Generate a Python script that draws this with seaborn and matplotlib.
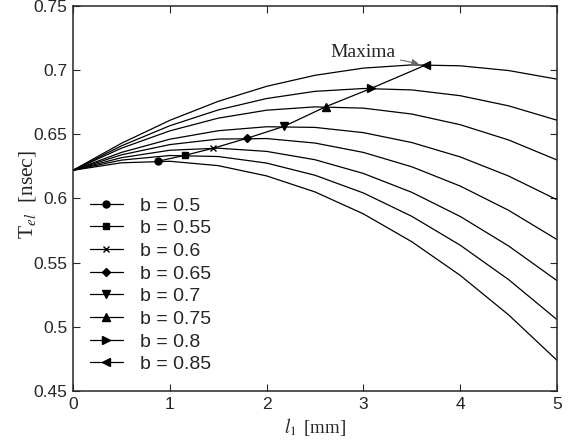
import pandas as pd
import matplotlib
matplotlib.use('Agg')
import matplotlib.pyplot as plt
import seaborn as sns
from matplotlib.lines import Line2D

# values
l1 = [0.0, 0.5, 1.0, 1.5, 2.0, 2.5, 3.0, 3.5, 4.0, 4.5, 5.0]
b_values = [0.5, 0.55, 0.6, 0.65, 0.7, 0.75, 0.8, 0.85]
T_b050 = [0.622, 0.6278, 0.6290, 0.6256, 0.6176, 0.6051, 0.5880, 0.5663, 0.5401, 0.5093, 0.4739]
T_b055 = [0.622, 0.6299, 0.6335, 0.6327, 0.6276, 0.6181, 0.6043, 0.5861, 0.5636, 0.5368, 0.5056]
T_b060 = [0.622, 0.6318, 0.6376, 0.6392, 0.6367, 0.6302, 0.6195, 0.6048, 0.5860, 0.5630, 0.5360]
T_b065 = [0.622, 0.6340, 0.6420, 0.6463, 0.6467, 0.6432, 0.6359, 0.6247, 0.6097, 0.5908, 0.5680]
T_b070 = [0.622, 0.6359, 0.6462, 0.6528, 0.6559, 0.6554, 0.6513, 0.6436, 0.6324, 0.6175, 0.5990]
T_b075 = [0.622, 0.6392, 0.6527, 0.6626, 0.6688, 0.6714, 0.6704, 0.6658, 0.6575, 0.6456, 0.6300]
T_b080 = [0.622, 0.6410, 0.6567, 0.6690, 0.6779, 0.6835, 0.6857, 0.6846, 0.6801, 0.6722, 0.6610]
T_b085 = [0.622, 0.6430, 0.6609, 0.6757, 0.6874, 0.6960, 0.7016, 0.7041, 0.7034, 0.6997, 0.6930]

# location of the maximum of each curve
max_l1 = [0.88, 1.16, 1.45, 1.80, 2.18, 2.61, 3.08, 3.65]
max_T = [0.6291, 0.6337, 0.6392, 0.6470, 0.6562, 0.6715, 0.6858, 0.7042]
markers = ['o', 's', 'x', 'D', 'v', '^', '>', '<']
marker_sizes = [5, 5, 4.5, 4.5, 6, 6, 6, 6]

curves = [T_b050, T_b055, T_b060, T_b065, T_b070, T_b075, T_b080, T_b085]
rows = []
for b, T in zip(b_values, curves):
    for x, y in zip(l1, T):
        rows.append({'b': b, 'l1': x, 'T': y})
df = pd.DataFrame(rows)

sns.set_style('ticks', {'xtick.direction': 'in', 'ytick.direction': 'in'})
plt.rcParams['font.family'] = ['Liberation Sans', 'DejaVu Sans']
plt.rcParams['mathtext.fontset'] = 'stix'
plt.rcParams['axes.linewidth'] = 1.1

fig = plt.figure(figsize=(5.75, 4.44), dpi=100)
ax = fig.add_axes([0.127, 0.1194, 0.8417, 0.8671])

sns.lineplot(data=df, x='l1', y='T', units='b', estimator=None, color='black',
             lw=0.9, ax=ax, legend=False)
sns.lineplot(x=max_l1, y=max_T, color='black', lw=0.9, ax=ax, legend=False, sort=False)

handles = []
for x, y, m, ms, b in zip(max_l1, max_T, markers, marker_sizes, b_values):
    ax.plot(x, y, marker=m, color='black', ms=ms, ls='none', mew=1.0)
    handles.append(Line2D([], [], color='black', marker=m, ms=ms, lw=0.9, mew=1.0,
                          label=f'b = {b:g}'))

ax.legend(handles=handles, loc='upper left', bbox_to_anchor=(0.035, 0.504),
          frameon=False, fontsize=14, handlelength=1.7, handletextpad=0.87,
          labelspacing=0.26, borderaxespad=0, borderpad=0)

ax.annotate('Maxima', xy=(3.6, 0.7046), xytext=(3.0, 0.7136),
            ha='center', va='center', fontsize=14, family=['Liberation Serif'],
            arrowprops=dict(arrowstyle='-|>', color='dimgray', lw=0.8,
                            shrinkA=1, shrinkB=2, mutation_scale=10))

ax.set_xlim(0, 5)
ax.set_ylim(0.45, 0.75)
ax.set_xticks([0, 1, 2, 3, 4, 5])
ax.set_xticklabels(['0', '1', '2', '3', '4', '5'])
ax.set_yticks([0.45, 0.5, 0.55, 0.6, 0.65, 0.7, 0.75])
ax.set_yticklabels(['0.45', '0.5', '0.55', '0.6', '0.65', '0.7', '0.75'])
ax.tick_params(which='both', direction='in', top=True, right=True, length=5,
               width=0.8, labelsize=12.5, pad=4)

ax.set_xlabel(r'$\mathit{l}_{\mathit{1}}$$\,$ [mm]', fontsize=13.5,
              family=['Liberation Serif'], labelpad=3)
ax.set_ylabel(r'T$_{\mathit{el}}$  [nsec]', fontsize=15.5, family=['Liberation Serif'])
ax.yaxis.set_label_coords(-0.072, 0.51)

for side in ['top', 'right']:
    ax.spines[side].set_visible(True)

fig.savefig('out.png', dpi=100)
